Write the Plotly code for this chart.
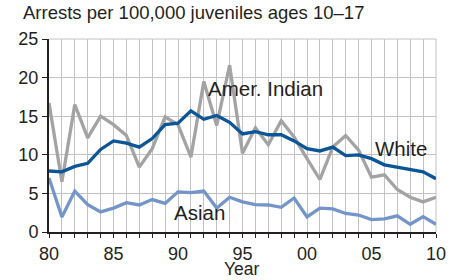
import plotly.graph_objects as go

years = list(range(1980, 2011))
white = [7.9, 7.8, 8.5, 8.9, 10.7, 11.8, 11.5, 11.0, 12.1, 13.9, 14.1,
         15.7, 14.6, 15.1, 14.2, 12.7, 13.0, 12.6, 12.6, 11.8, 10.8,
         10.5, 11.0, 9.9, 10.0, 9.5, 8.7, 8.4, 8.0, 7.8, 6.9]
amer_indian = [16.7, 6.5, 16.5, 12.2, 15.0, 13.9, 12.5, 8.4, 10.8, 14.9, 13.9,
               9.7, 19.5, 13.8, 21.6, 10.2, 13.5, 11.3, 14.4, 12.3, 9.5,
               6.8, 11.0, 12.5, 10.6, 7.1, 7.4, 5.5, 4.5, 3.9, 4.5]
asian = [7.0, 1.95, 5.3, 3.55, 2.6, 3.1, 3.8, 3.5, 4.2, 3.7, 5.2,
         5.1, 5.3, 3.1, 4.5, 3.9, 3.55, 3.5, 3.2, 4.4, 1.95,
         3.1, 3.0, 2.4, 2.2, 1.6, 1.7, 2.1, 1.0, 2.0, 1.0]
x_ticktext = {1980: "80", 1985: "85", 1990: "90", 1995: "95",
              2000: "00", 2005: "05", 2010: "10"}
y_ticks = [0, 5, 10, 15, 20, 25]
title_text = "Arrests per 100,000 juveniles ages 10–17"
x_title = "Year"

FONT = "Liberation Sans, Arial, Helvetica, sans-serif"
TXT = "#231f20"
GRID = "#c2c2c2"

fig = go.Figure()
fig.add_trace(go.Scatter(x=years, y=asian, mode="lines",
                         line=dict(color="#7395c9", width=3.3), hoverinfo="skip"))
fig.add_trace(go.Scatter(x=years, y=amer_indian, mode="lines",
                         line=dict(color="#a3a3a3", width=3.3), hoverinfo="skip"))
fig.add_trace(go.Scatter(x=years, y=white, mode="lines",
                         line=dict(color="#0b5599", width=3.3), hoverinfo="skip"))

fig.update_layout(
    width=459, height=280,
    margin=dict(l=49, r=23, t=39, b=48, autoexpand=False),
    paper_bgcolor="white", plot_bgcolor="white",
    showlegend=False,
    font=dict(family=FONT, size=18, color=TXT),
    xaxis=dict(
        range=[1980, 2010],
        tickvals=years,
        ticktext=[x_ticktext.get(y, "") for y in years],
        showgrid=True, gridcolor=GRID, gridwidth=1,
        showline=True, linecolor="#231f20", linewidth=2,
        ticks="outside", ticklen=4, tickcolor="#231f20", tickwidth=1,
        tickfont=dict(size=18, color=TXT),
        zeroline=False, automargin=False,
    ),
    yaxis=dict(
        range=[0, 25],
        tickvals=y_ticks,
        showgrid=True, gridcolor=GRID, gridwidth=1,
        showline=True, linecolor="#231f20", linewidth=2,
        ticks="outside", ticklen=5, tickcolor="#231f20", tickwidth=1,
        tickfont=dict(size=18, color=TXT),
        zeroline=False, automargin=False,
    ),
)

# top and right grid edges
fig.add_shape(type="line", xref="paper", yref="paper", x0=0, x1=1, y0=1, y1=1,
              line=dict(color=GRID, width=1), layer="below")
fig.add_shape(type="line", xref="paper", yref="paper", x0=1, x1=1, y0=0, y1=1,
              line=dict(color=GRID, width=1), layer="below")

fig.add_annotation(text=title_text, xref="paper", yref="paper", x=-0.072, y=1.07,
                   xanchor="left", yanchor="bottom", showarrow=False,
                   font=dict(size=18.5, color=TXT))
fig.add_annotation(text=x_title, xref="paper", yref="paper", x=0.499, y=-0.2487,
                   xanchor="center", yanchor="bottom", showarrow=False, borderpad=0,
                   font=dict(size=17.5, color=TXT))
fig.add_annotation(text="Amer. Indian", x=1996.8, y=18.6, xanchor="center", yanchor="middle",
                   showarrow=False, font=dict(size=20.5, color=TXT))
fig.add_annotation(text="White", x=2007.3, y=10.8, xanchor="center", yanchor="middle",
                   showarrow=False, font=dict(size=20.5, color=TXT))
fig.add_annotation(text="Asian", x=1991.7, y=2.5, xanchor="center", yanchor="middle",
                   showarrow=False, font=dict(size=20.5, color=TXT))

fig.write_html("out.html", config={"displayModeBar": False},
               post_script="document.body.style.margin='0';document.body.style.padding='0';")
